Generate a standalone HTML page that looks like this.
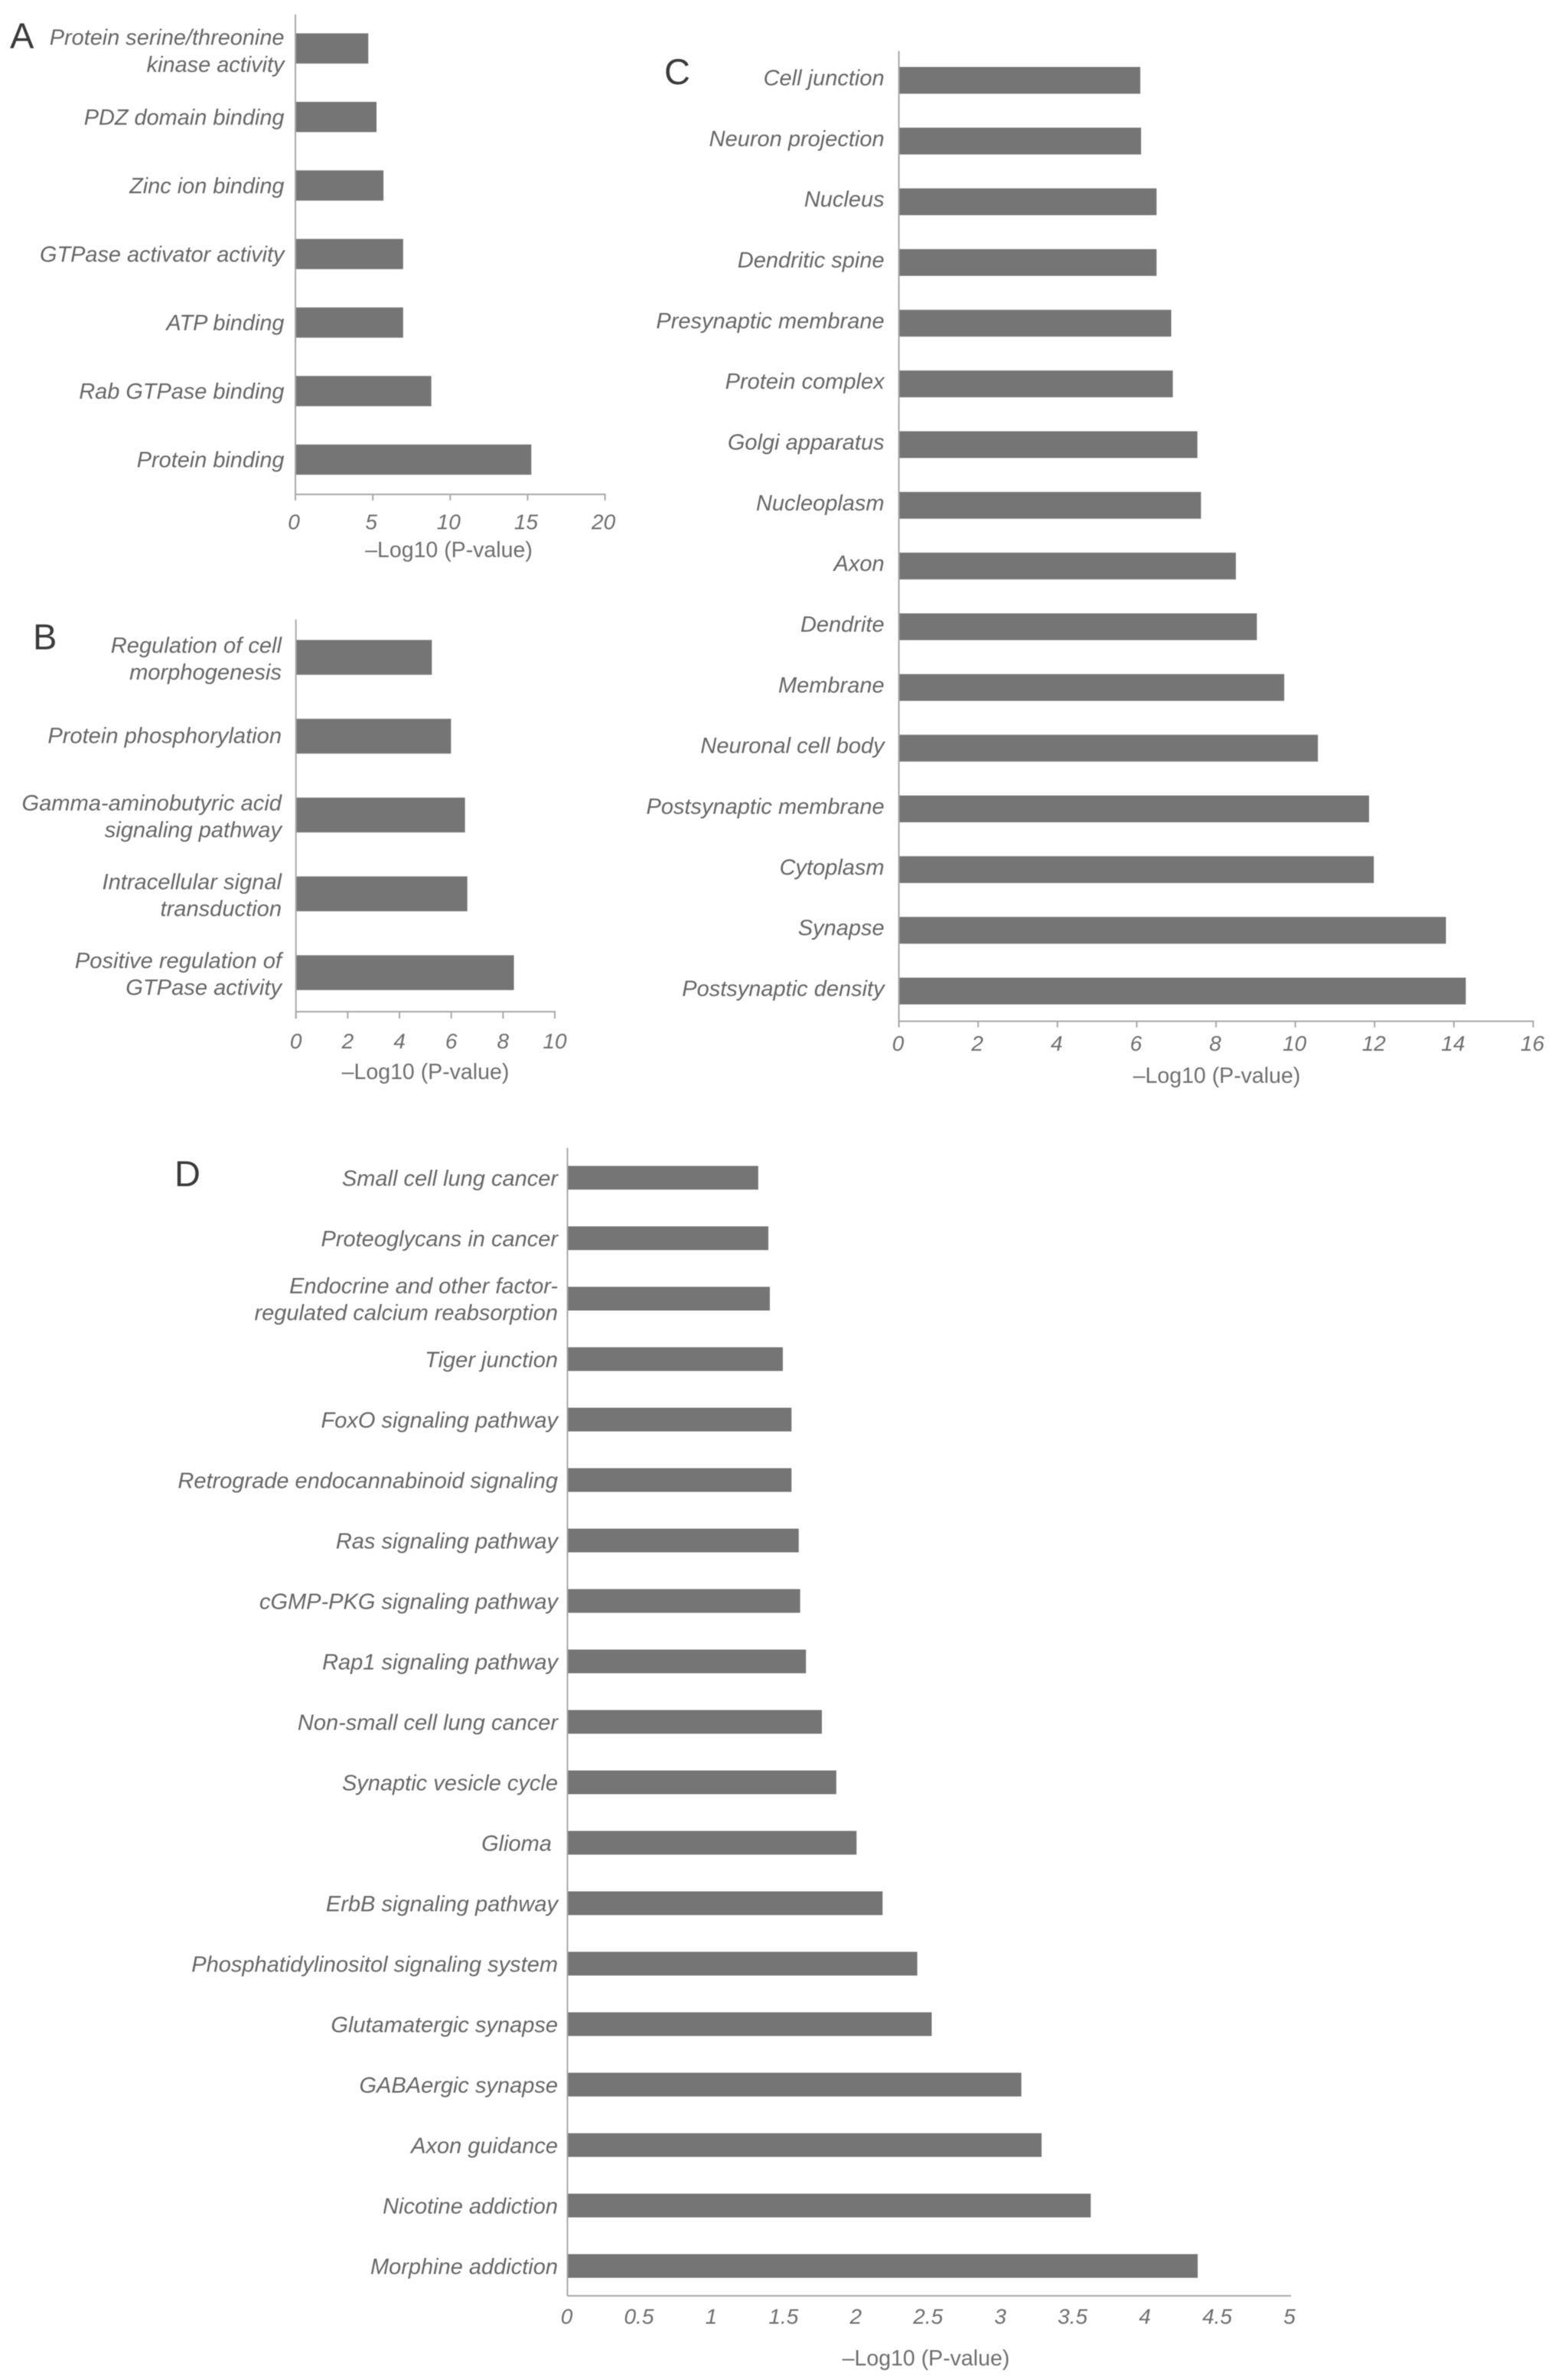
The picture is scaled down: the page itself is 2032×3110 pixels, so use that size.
<!DOCTYPE html>
<html lang="en">
<head>
<meta charset="utf-8">
<title>Enrichment bar charts</title>
<style>
html,body{margin:0;padding:0;background:#fff;}
svg{display:block;filter:blur(0.6px);}
text{font-family:"Liberation Sans",sans-serif;}
.cat{font-style:italic;fill:#666;font-size:29px;text-anchor:end;}
.tick{font-style:italic;fill:#6e6e6e;font-size:28px;text-anchor:middle;}
.xt{fill:#6e6e6e;font-size:28.5px;text-anchor:middle;}
.letter{fill:#3a3a3a;font-size:47px;}
</style>
</head>
<body>
<svg id="fig" width="2032" height="3110" viewBox="0 0 2032 3110" xmlns="http://www.w3.org/2000/svg"></svg>
<script>
// Panel A
const categoriesA = ["Protein serine/threonine|kinase activity","PDZ domain binding","Zinc ion binding","GTPase activator activity","ATP binding","Rab GTPase binding","Protein binding"];
const valuesA = [4.71,5.24,5.69,6.96,6.96,8.78,15.24];
const tickLabelsA = ["0","5","10","15","20"];
// Panel B
const categoriesB = ["Regulation of cell|morphogenesis","Protein phosphorylation","Gamma-aminobutyric acid|signaling pathway","Intracellular signal|transduction","Positive regulation of|GTPase activity"];
const valuesB = [5.25,5.99,6.53,6.62,8.42];
const tickLabelsB = ["0","2","4","6","8","10"];
// Panel C
const categoriesC = ["Cell junction","Neuron projection","Nucleus","Dendritic spine","Presynaptic membrane","Protein complex","Golgi apparatus","Nucleoplasm","Axon","Dendrite","Membrane","Neuronal cell body","Postsynaptic membrane","Cytoplasm","Synapse","Postsynaptic density"];
const valuesC = [6.09,6.11,6.50,6.50,6.87,6.91,7.53,7.62,8.50,9.03,9.72,10.57,11.86,11.98,13.80,14.30];
const tickLabelsC = ["0","2","4","6","8","10","12","14","16"];
// Panel D
const categoriesD = ["Small cell lung cancer","Proteoglycans in cancer","Endocrine and other factor-|regulated calcium reabsorption","Tiger junction","FoxO signaling pathway","Retrograde endocannabinoid signaling","Ras signaling pathway","cGMP-PKG signaling pathway","Rap1 signaling pathway","Non-small cell lung cancer","Synaptic vesicle cycle","Glioma\u00a0","ErbB signaling pathway","Phosphatidylinositol signaling system","Glutamatergic synapse","GABAergic synapse","Axon guidance","Nicotine addiction","Morphine addiction"];
const valuesD = [1.32,1.39,1.40,1.49,1.55,1.55,1.60,1.61,1.65,1.76,1.86,2.00,2.18,2.42,2.52,3.14,3.28,3.62,4.36];
const tickLabelsD = ["0","0.5","1","1.5","2","2.5","3","3.5","4","4.5","5"];
const axisTitle = "\u2013Log10 (P-value)";

const NS = "http://www.w3.org/2000/svg";
const root = document.getElementById("fig");

function make(tag, attrs, parent) {
  const el = document.createElementNS(NS, tag);
  for (const k in attrs) el.setAttribute(k, attrs[k]);
  parent.appendChild(el);
  return el;
}

function drawPanel(p) {
  const g = make("g", {}, root);
  
  

  const max = Number(p.ticks[p.ticks.length - 1]);
  const xScale = v => p.x0 + (v / max) * (p.x1 - p.x0);
  const step = (p.yLast - p.yFirst) / (p.cats.length - 1);
  const yScale = i => p.yFirst + i * step;

  p.cats.forEach((cat, i) => {
    const cy = yScale(i);
    const bar = make("rect", {x: p.x0, y: cy - p.barH / 2, width: xScale(p.vals[i]) - p.x0, height: p.barH, fill: "#757575"}, g);
    
    

    const lines = cat.split("|");
    const base = cy + p.labelDy + (lines.length > 1 ? p.wrapDy : 0) - (lines.length - 1) * p.lineH / 2;
    lines.forEach((ln, j) => {
      const t = make("text", {class: "cat", x: p.labelX, y: base + j * p.lineH + 10, style: "font-size:" + p.catSize + "px"}, g);
      t.textContent = ln;
      
      
    });
  });

  const yAxis = make("line", {x1: p.x0, x2: p.x0, y1: p.axisTop, y2: p.axisBottom + p.tickLen, stroke: "#a8a8a8", "stroke-width": 2}, g);
  
  

  const xAxis = make("line", {x1: p.x0, x2: p.x1 + 1, y1: p.axisBottom, y2: p.axisBottom, stroke: "#a8a8a8", "stroke-width": 2}, g);
  
  

  p.ticks.forEach(lbl => {
    const x = xScale(Number(lbl));
    if (p.tickLen > 0) {
      const tk = make("line", {x1: x, x2: x, y1: p.axisBottom, y2: p.axisBottom + p.tickLen, stroke: "#a8a8a8", "stroke-width": 2}, g);
      
      
    }
    const tl = make("text", {class: "tick", x: x + p.tickDx, y: p.tickY + 10}, g);
    tl.textContent = lbl;
    
    
  });

  const title = make("text", {class: "xt", x: p.titleX, y: p.titleY + 10}, g);
  title.textContent = axisTitle;
  
  

  const letter = make("text", {class: "letter", x: p.letterX, y: p.letterY}, g);
  letter.textContent = p.id;
  
  
}

drawPanel({id:"A", cats:categoriesA, vals:valuesA, ticks:tickLabelsA,
  x0:386, x1:790.6, yFirst:63.3, yLast:600.6, barH:39.5, axisTop:19, axisBottom:646, tickLen:8,
  labelX:371.5, labelDy:0, wrapDy:3, lineH:35.6, catSize:28.9,
  tickDx:-2, tickY:681.5, titleX:586.5, titleY:718, letterX:13, letterY:63});

drawPanel({id:"B", cats:categoriesB, vals:valuesB, ticks:tickLabelsB,
  x0:386.7, x1:725, yFirst:859, yLast:1271, barH:45.5, axisTop:809.5, axisBottom:1322, tickLen:9,
  labelX:368, labelDy:-1, wrapDy:2.5, lineH:35, catSize:29.1,
  tickDx:0, tickY:1360, titleX:556, titleY:1400, letterX:43, letterY:848.5});

drawPanel({id:"C", cats:categoriesC, vals:valuesC, ticks:tickLabelsC,
  x0:1174.6, x1:2003.5, yFirst:105, yLast:1295, barH:35, axisTop:66.6, axisBottom:1334.5, tickLen:8,
  labelX:1155.6, labelDy:-3.5, wrapDy:0, lineH:35, catSize:29,
  tickDx:-1, tickY:1363, titleX:1590, titleY:1405, letterX:868, letterY:110});

drawPanel({id:"D", cats:categoriesD, vals:valuesD, ticks:tickLabelsD,
  x0:741.5, x1:1686, yFirst:1539, yLast:2961, barH:31, axisTop:1500, axisBottom:3000, tickLen:0,
  labelX:729, labelDy:0.5, wrapDy:0, lineH:35, catSize:29,
  tickDx:-1, tickY:3026.5, titleX:1210, titleY:3081, letterX:228, letterY:1550});
</script>
</body>
</html>
